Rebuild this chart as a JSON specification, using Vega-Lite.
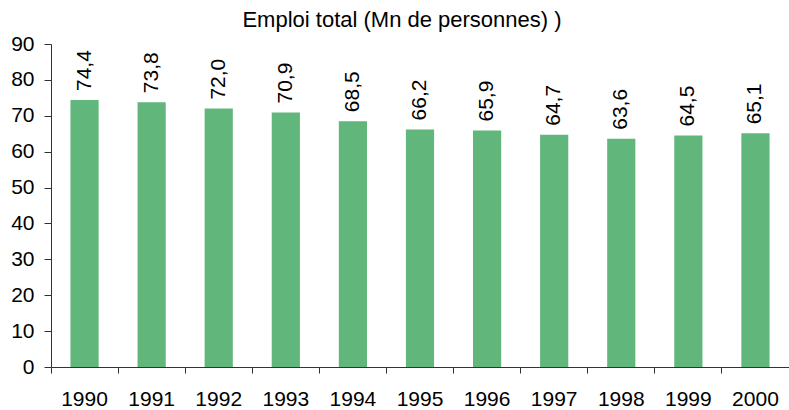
{
  "$schema": "https://vega.github.io/schema/vega-lite/v6.json",
  "width": 738,
  "height": 323,
  "autosize": {"type": "none"},
  "padding": {"left": 51, "top": 44, "right": 0, "bottom": 43},
  "background": "white",
  "config": {
    "locale": {"number": {"decimal": ",", "thousands": " ", "grouping": [3], "currency": ["", " €"]}},
    "view": {"stroke": null},
    "font": "Liberation Sans"
  },
  "title": {"text": "Emploi total (Mn de personnes) )", "fontSize": 22, "fontWeight": "normal", "font": "Liberation Sans", "color": "#000", "offset": 1, "dx": -18},
  "data": {"values": [
    {"year": "1990", "value": 74.4},
    {"year": "1991", "value": 73.8},
    {"year": "1992", "value": 72.0},
    {"year": "1993", "value": 70.9},
    {"year": "1994", "value": 68.5},
    {"year": "1995", "value": 66.2},
    {"year": "1996", "value": 65.9},
    {"year": "1997", "value": 64.7},
    {"year": "1998", "value": 63.6},
    {"year": "1999", "value": 64.5},
    {"year": "2000", "value": 65.1}
  ]},
  "encoding": {
    "x": {"field": "year", "type": "ordinal", "scale": {"paddingInner": 0, "paddingOuter": 0},
      "axis": {"title": null, "labelAngle": 0, "labelFontSize": 21, "labelColor": "#000", "domainColor": "#333", "tickColor": "#333", "tickSize": 6, "labelPadding": 15, "bandPosition": 0, "grid": false}},
    "y": {"field": "value", "type": "quantitative", "scale": {"domain": [0, 90], "nice": false},
      "axis": {"title": null, "values": [0,10,20,30,40,50,60,70,80,90], "labelFontSize": 21, "labelColor": "#000", "domainColor": "#333", "tickColor": "#333", "tickSize": 7, "labelPadding": 10, "grid": false}}
  },
  "layer": [
    {"mark": {"type": "bar", "color": "#61b67b", "width": {"band": 0.42}}},
    {"mark": {"type": "text", "angle": 270, "align": "left", "baseline": "middle", "dx": 9, "fontSize": 21, "color": "#000"},
     "encoding": {"text": {"field": "value", "type": "quantitative", "format": ".1f"}}}
  ]
}
